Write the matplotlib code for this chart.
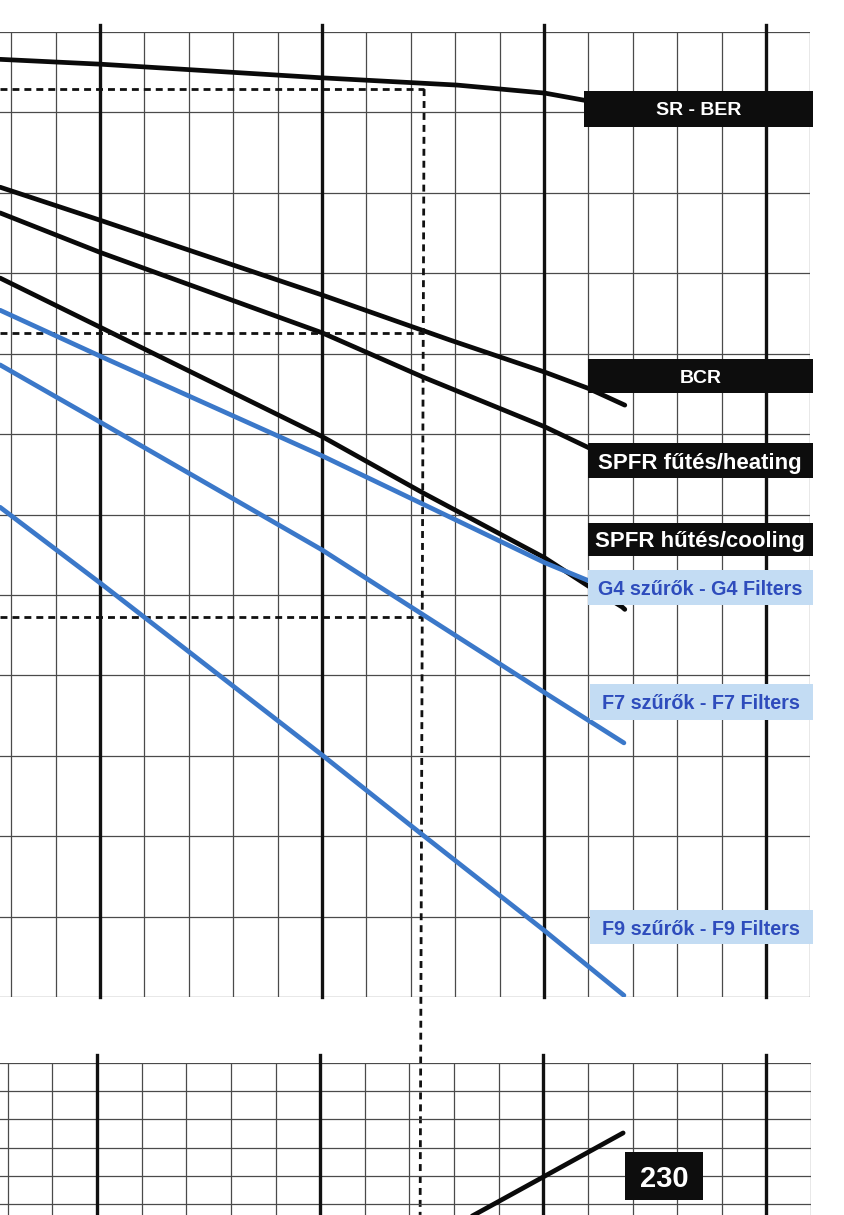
import numpy as np
import matplotlib.pyplot as plt
from matplotlib.patches import Rectangle

# grid units: one thin column = 1 (heavy line every 5), one row = 1, row 0 at top
sr_ber_x = [-2.25, 0, 5, 8.04, 10.02, 10.92, 11.82]
sr_ber_y = [0.34, 0.40, 0.57, 0.66, 0.76, 0.85, 0.92]

bcr_x = [-2.25, 0, 5, 7.88, 10.02, 10.99, 11.82]
bcr_y = [1.93, 2.34, 3.27, 3.83, 4.23, 4.43, 4.64]

spfr_heat_x = [-2.25, 0, 5, 7.27, 10.02, 10.97, 11.49]
spfr_heat_y = [2.25, 2.74, 3.74, 4.29, 4.91, 5.16, 5.30]

spfr_cool_x = [-2.25, 0, 5, 7.27, 10.02, 10.97, 11.76, 11.82]
spfr_cool_y = [3.06, 3.67, 5.03, 5.73, 6.54, 6.88, 7.15, 7.18]

g4_x = [-2.25, 0, 5, 7.27, 10.02, 10.99]
g4_y = [3.46, 4.03, 5.27, 5.87, 6.60, 6.82]

f7_x = [-2.25, 0, 5, 7.23, 10.0, 11.80]
f7_y = [4.14, 4.85, 6.44, 7.23, 8.21, 8.84]

f9_x = [-2.25, 0, 5, 7.21, 10.0, 11.80]
f9_y = [5.91, 6.85, 8.99, 9.96, 11.17, 11.98]

# lower chart
fan_x = [8.0, 10.0, 11.79]
fan_y = [5.78, 4.04, 2.48]
fan_label = '230'

# reading guide (dashed)
guide_x_top, guide_x_bottom = 7.30, 7.21
guide_y_top, guide_y_bottom = 0.71, 14.71
guide_levels = [0.71, 3.74, 7.28]

labels = ['SR - BER', 'BCR', 'SPFR fűtés/heating', 'SPFR hűtés/cooling',
          'G4 szűrők - G4 Filters', 'F7 szűrők - F7 Filters', 'F9 szűrők - F9 Filters']
label_blue = [False, False, False, False, True, True, True]

# label box layout
label_left = [10.90, 10.99, 10.99, 10.99, 10.99, 11.04, 11.04]
label_top = [0.73, 4.07, 5.11, 6.10, 6.69, 8.11, 10.92]
label_bottom = [1.18, 4.49, 5.55, 6.51, 7.13, 8.55, 11.34]
label_size = [14, 14, 16, 16, 14.2, 14.2, 14.2]
box_right = 16.05

BLUE = '#3b78c9'
BOX_BLUE = '#c3dcf3'
TEXT_BLUE = '#2e4cbc'
GRID = '#4a4a4a'
W, H = 845, 1215

plt.rcParams['font.family'] = ['Liberation Sans', 'DejaVu Sans']

fig = plt.figure(figsize=(W / 100, H / 100), dpi=100)
fig.patch.set_facecolor('white')


def draw_grid(ax, nrows, tick):
    for xv in range(-2, 17):
        if xv % 5 == 0:
            ax.plot([xv, xv], [-tick, ax.get_ylim()[0]], color='#111111', lw=2.4,
                    clip_on=False, zorder=2)
        else:
            ax.axvline(xv, color=GRID, lw=0.9, zorder=1)
    for yv in range(nrows):
        ax.axhline(yv, color=GRID, lw=0.9, zorder=1)


# upper chart
ax = fig.add_axes([0, (H - 997) / H, 810.4 / W, 965 / H])
ax.set_xlim(-100 / 44.4, 16)
ax.set_ylim(12, 0)
ax.axis('off')
draw_grid(ax, 13, 0.09)

black_curves = [(sr_ber_x, sr_ber_y), (bcr_x, bcr_y), (spfr_heat_x, spfr_heat_y),
                (spfr_cool_x, spfr_cool_y)]
blue_curves = [(g4_x, g4_y), (f7_x, f7_y), (f9_x, f9_y)]
for cx, cy in black_curves:
    ax.plot(cx, cy, color='#0a0a0a', lw=3.4, solid_capstyle='round',
            solid_joinstyle='round', zorder=3)
for cx, cy in blue_curves:
    ax.plot(cx, cy, color=BLUE, lw=3.4, solid_capstyle='round',
            solid_joinstyle='round', zorder=4)


def guide_x(level):
    t = (level - guide_y_top) / (guide_y_bottom - guide_y_top)
    return guide_x_top + (guide_x_bottom - guide_x_top) * t


dash = (0, (2.5, 1.8))
ax.plot([guide_x_top, guide_x_bottom], [guide_y_top, guide_y_bottom], color='#111111',
        lw=2.0, ls=dash, clip_on=False, zorder=3)
for lv in guide_levels:
    ax.plot([-2.25, guide_x(lv)], [lv, lv], color='#111111', lw=2.0, ls=dash, zorder=3)

for i, txt in enumerate(labels):
    face = BOX_BLUE if label_blue[i] else '#0d0d0d'
    tcol = TEXT_BLUE if label_blue[i] else 'white'
    ax.add_patch(Rectangle((label_left[i], label_top[i]), box_right - label_left[i],
                           label_bottom[i] - label_top[i], facecolor=face,
                           edgecolor='none', clip_on=False, zorder=5))
    ax.text((label_left[i] + box_right) / 2, (label_top[i] + label_bottom[i]) / 2, txt,
            color=tcol, fontsize=label_size[i], fontweight='bold', ha='center',
            va='center_baseline', zorder=6, clip_on=False)

# lower chart
ax2 = fig.add_axes([0, 0, 811 / W, 152 / H])
ax2.set_xlim(-97 / 44.6, 16)
ax2.set_ylim(152 / 28.2, 0)
ax2.axis('off')
draw_grid(ax2, 6, 0.28)
ax2.plot(fan_x, fan_y, color='#0a0a0a', lw=3.4, solid_capstyle='round', zorder=3)
ax2.add_patch(Rectangle((11.84, 3.16), 1.73, 1.70, facecolor='#0d0d0d',
                        edgecolor='none', zorder=5))
ax2.text(12.705, 4.01, fan_label, color='white', fontsize=21, fontweight='bold',
         family=['Liberation Sans Narrow', 'DejaVu Sans Condensed', 'Liberation Sans'],
         ha='center', va='center_baseline', zorder=6)

fig.savefig('out.png', dpi=100, facecolor='white')
